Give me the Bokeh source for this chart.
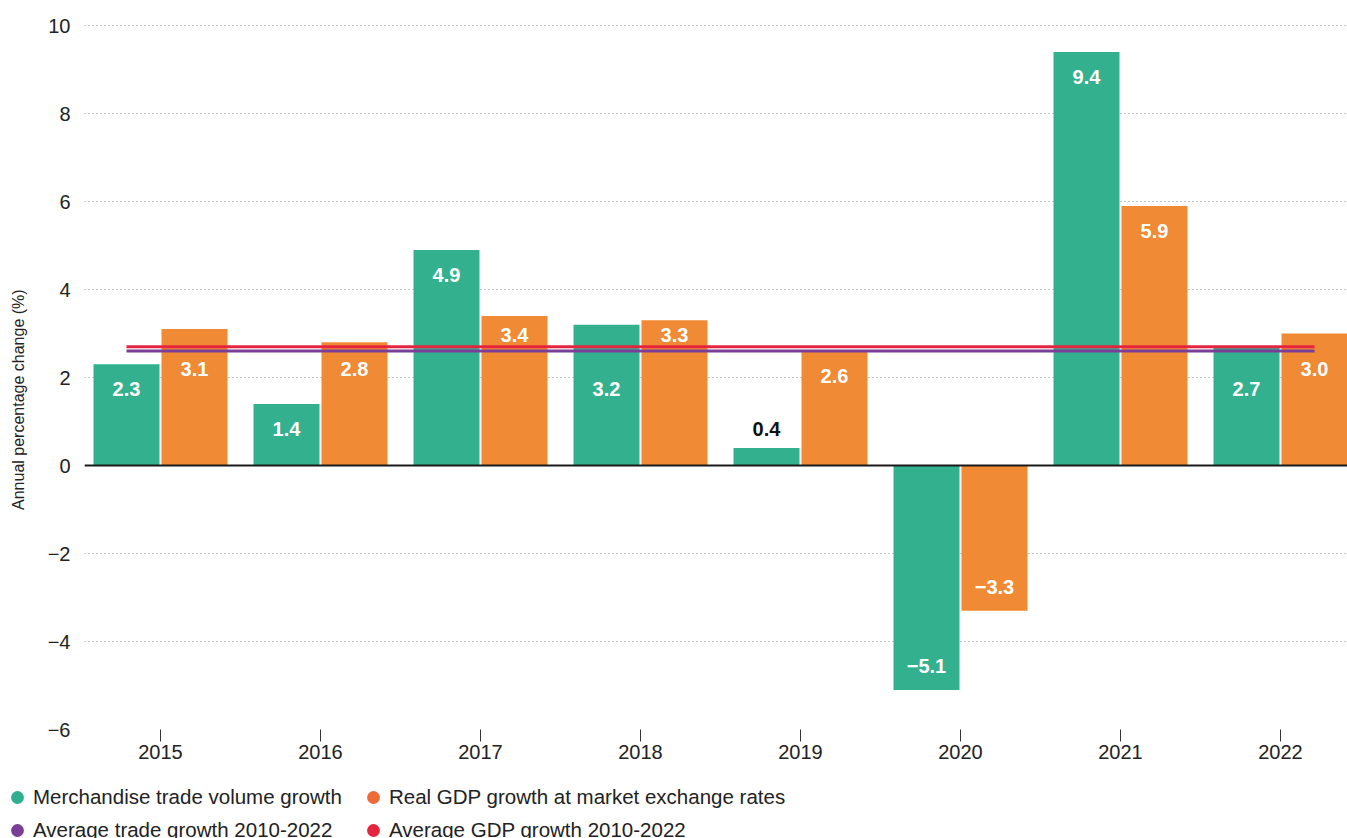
from bokeh.plotting import figure
from bokeh.layouts import column
from bokeh.models import Range1d, FixedTicker, Span, Legend, LegendItem
from bokeh.core.properties import value
from bokeh.embed import file_html
from bokeh.resources import INLINE

# ---- data ----
years = ["2015", "2016", "2017", "2018", "2019", "2020", "2021", "2022"]
trade_growth = [2.3, 1.4, 4.9, 3.2, 0.4, -5.1, 9.4, 2.7]
gdp_growth = [3.1, 2.8, 3.4, 3.3, 2.6, -3.3, 5.9, 3.0]
avg_trade_growth = 2.6
avg_gdp_growth = 2.7
y_ticks = [-6, -4, -2, 0, 2, 4, 6, 8, 10]

FONT = "Liberation Sans"
GREEN = "#33B18E"
ORANGE = "#F08A35"
PURPLE = "#7A3E97"
RED = "#E5243F"
TXT = "#222222"

n = len(years)
idx = list(range(n))

p = figure(width=1347, height=775, output_backend="svg", toolbar_location=None,
           x_range=Range1d(-0.475, -0.475 + 1263 / 160),
           y_range=Range1d(-6, -6 + 713 / 44),
           min_border_left=84, min_border_right=0, min_border_top=16,
           min_border_bottom=46)
p.frame_align = False
p.outline_line_color = None
p.background_fill_color = "white"
p.border_fill_color = "white"

# bars
off = 0.2125
bw = 0.4125
p.vbar(x=[i - off for i in idx], top=trade_growth, bottom=0, width=bw,
       fill_color=GREEN, line_color=None)
p.vbar(x=[i + off for i in idx], top=gdp_growth, bottom=0, width=bw,
       fill_color=ORANGE, line_color=None)

# average lines
p.segment(x0=[-off], x1=[n - 1 + off], y0=[avg_trade_growth], y1=[avg_trade_growth],
          line_color=PURPLE, line_width=3)
p.segment(x0=[-off], x1=[n - 1 + off], y0=[avg_gdp_growth], y1=[avg_gdp_growth],
          line_color=RED, line_width=3)

# zero line
p.add_layout(Span(location=0, dimension="width", line_color="#1a1a1a", line_width=2))


def label_y(v, series):
    if v < 0:
        return v + 0.55
    if v < 1:
        return v + 0.44
    y = v - 0.57
    if 2.1 < y < 3.2:
        if v >= 3.3:
            y = 2.97
        else:
            y = 1.73 if series == "trade" else 2.2
    return y


def fmt(v):
    s = f"{abs(v):.1f}"
    return "\u2212" + s if v < 0 else s


lx, ly, lt, lc = [], [], [], []
for i in idx:
    for v, s, o in ((trade_growth[i], "trade", -off), (gdp_growth[i], "gdp", off)):
        lx.append(i + o)
        ly.append(label_y(v, s))
        lt.append(fmt(v))
        lc.append("#111111" if 0 <= v < 1 else "white")
p.text(x=lx, y=ly, text=lt, text_color=lc, text_font=value(FONT),
       text_font_style="bold", text_font_size="20px",
       text_align="center", text_baseline="middle")

# axes
p.xaxis.ticker = FixedTicker(ticks=idx)
p.xaxis.major_label_overrides = {i: y for i, y in zip(idx, years)}
p.xaxis.axis_line_color = None
p.xaxis.major_tick_in = 0
p.xaxis.major_tick_out = 12
p.xaxis.major_tick_line_color = "#333333"
p.xaxis.minor_tick_line_color = None
p.xaxis.major_label_standoff = 3
p.xaxis.major_label_text_font = FONT
p.xaxis.major_label_text_font_size = "20px"
p.xaxis.major_label_text_color = TXT

p.yaxis.ticker = FixedTicker(ticks=y_ticks)
p.yaxis.major_label_overrides = {t: ("\u2212" + str(-t) if t < 0 else str(t)) for t in y_ticks}
p.yaxis.axis_line_color = None
p.yaxis.major_tick_line_color = None
p.yaxis.minor_tick_line_color = None
p.yaxis.major_tick_in = 0
p.yaxis.major_tick_out = 0
p.yaxis.major_label_standoff = 14
p.yaxis.major_label_text_font = FONT
p.yaxis.major_label_text_font_size = "20px"
p.yaxis.major_label_text_color = TXT
p.yaxis.axis_label = "Annual percentage change (%)" + "\u00a0" * 12
p.yaxis.axis_label_standoff = 18
p.yaxis.axis_label_text_font = FONT
p.yaxis.axis_label_text_font_size = "16px"
p.yaxis.axis_label_text_font_style = "normal"
p.yaxis.axis_label_text_color = TXT

p.xgrid.visible = False
p.ygrid.ticker = FixedTicker(ticks=y_ticks)
p.ygrid.grid_line_color = "#8a8a8a"
p.ygrid.grid_line_dash = "1 3"
p.ygrid.grid_line_width = 1

# ---- legend strip (separate figure below the chart) ----
lf = figure(width=1347, height=63, output_backend="svg", toolbar_location=None,
            x_range=Range1d(0, 1), y_range=Range1d(0, 1),
            min_border_left=0, min_border_right=0, min_border_top=0, min_border_bottom=0,
            x_axis_location=None, y_axis_location=None)
lf.frame_align = False
lf.outline_line_color = None
lf.xgrid.visible = False
lf.ygrid.visible = False
lf.background_fill_color = "white"
lf.border_fill_color = "white"

nan = float("nan")
r1 = lf.scatter(x=[nan], y=[nan], marker="circle", size=13, fill_color="#2FAF8C", line_color=None)
r2 = lf.scatter(x=[nan], y=[nan], marker="circle", size=13, fill_color="#EE6A36", line_color=None)
r3 = lf.scatter(x=[nan], y=[nan], marker="circle", size=13, fill_color=PURPLE, line_color=None)
r4 = lf.scatter(x=[nan], y=[nan], marker="circle", size=13, fill_color=RED, line_color=None)


def make_legend(items, loc):
    return Legend(items=items, location=loc, orientation="horizontal",
                  glyph_width=32, glyph_height=32, label_standoff=0, label_width=323,
                  spacing=1, padding=0, margin=0, border_line_color=None,
                  background_fill_alpha=0, label_text_font=FONT,
                  label_text_font_size="20.5px", label_text_color=TXT)


leg1 = make_legend([LegendItem(label="Merchandise trade volume growth", renderers=[r1]),
                    LegendItem(label="Real GDP growth at market exchange rates", renderers=[r2])],
                   (1, 25))
leg2 = make_legend([LegendItem(label="Average trade growth 2010-2022", renderers=[r3]),
                    LegendItem(label="Average GDP growth 2010-2022", renderers=[r4])],
                   (1, -8))
lf.add_layout(leg1)
lf.add_layout(leg2)

layout = column(p, lf, spacing=0)
open("out.html", "w").write(file_html(layout, INLINE))
